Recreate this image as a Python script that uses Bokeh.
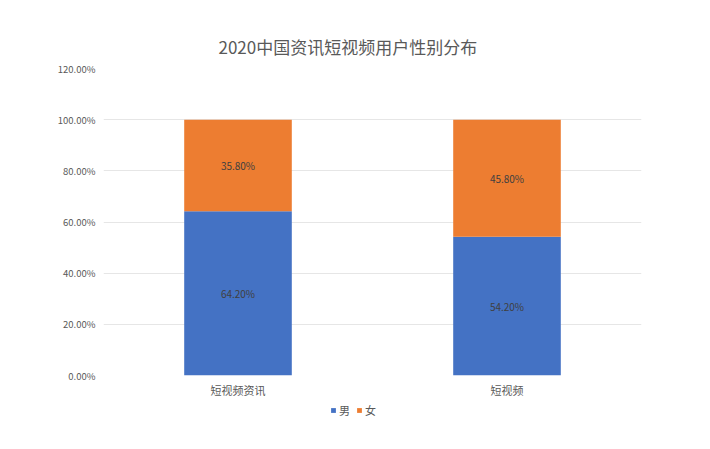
from bokeh.plotting import figure
from bokeh.layouts import column
from bokeh.models import ColumnDataSource, NumeralTickFormatter, Legend, LegendItem, LabelSet, FixedTicker, Range1d
from bokeh.core.properties import value
from bokeh.embed import file_html
from bokeh.resources import INLINE

categories = ["短视频资讯", "短视频"]
male = [0.642, 0.542]
female = [0.358, 0.458]
series_names = ["男", "女"]
colors = ["#4472C4", "#ED7D31"]
y_ticks = [0, 0.2, 0.4, 0.6, 0.8, 1.0, 1.2]
title_text = "2020中国资讯短视频用户性别分布"

FONT = "Noto Sans CJK SC"
TXT = "#595959"

src = ColumnDataSource(dict(
    cat=categories,
    male=male,
    female=female,
    male_mid=[m / 2 for m in male],
    female_mid=[m + f / 2 for m, f in zip(male, female)],
    male_lbl=[f"{m*100:.2f}%" for m in male],
    female_lbl=[f"{f*100:.2f}%" for f in female],
))

p = figure(x_range=categories, y_range=Range1d(0, 1.2), width=700, height=400,
           output_backend="svg", toolbar_location=None, title=title_text,
           min_border_left=103, min_border_right=59, min_border_top=68, min_border_bottom=25)

r = p.vbar_stack(["male", "female"], x="cat", width=0.4, source=src,
                 color=colors, line_color=None)

p.title.align = "left"
p.title.offset = 115
p.title.standoff = 19
p.title.text_font = FONT
p.title.text_font_size = "17px"
p.title.text_font_style = "normal"
p.title.text_color = TXT

p.outline_line_color = None
p.background_fill_color = "white"
p.border_fill_color = "white"

p.yaxis.ticker = FixedTicker(ticks=y_ticks)
p.yaxis.formatter = NumeralTickFormatter(format="0.00%")
p.yaxis.axis_line_color = None
p.yaxis.major_tick_line_color = None
p.yaxis.minor_tick_line_color = None
p.yaxis.major_tick_out = 0
p.yaxis.major_tick_in = 0
p.yaxis.minor_tick_out = 0
p.yaxis.major_label_text_font = FONT
p.yaxis.major_label_text_font_size = "9.5px"
p.yaxis.major_label_text_color = TXT
p.yaxis.major_label_standoff = 8

p.xaxis.axis_line_color = None
p.xaxis.major_tick_line_color = None
p.xaxis.major_tick_out = 0
p.xaxis.major_tick_in = 0
p.xaxis.major_label_text_font = FONT
p.xaxis.major_label_text_font_size = "11px"
p.xaxis.major_label_text_color = TXT
p.xaxis.major_label_standoff = 6

p.xgrid.grid_line_color = None
p.ygrid.grid_line_color = "#E6E6E6"
p.ygrid.ticker = FixedTicker(ticks=y_ticks)

for ycol, tcol in [("male_mid", "male_lbl"), ("female_mid", "female_lbl")]:
    lbl = LabelSet(x="cat", y=ycol, text=tcol, source=src,
                   text_align="center", text_baseline="middle",
                   text_font=value(FONT), text_font_size=value("10px"), text_color="#404040")
    p.add_layout(lbl)

# legend strip below the chart (its bars lie outside the visible range; only the legend shows)
lp = figure(width=700, height=30, output_backend="svg", toolbar_location=None,
            x_range=categories, y_range=Range1d(5, 6),
            x_axis_type=None, y_axis_type=None,
            min_border_left=0, min_border_right=0, min_border_top=0, min_border_bottom=0)
lp.outline_line_color = None
lp.xgrid.grid_line_color = None
lp.ygrid.grid_line_color = None
lr = lp.vbar_stack(["male", "female"], x="cat", width=0.4, source=src,
                   color=colors, line_color=None)
legend = Legend(items=[LegendItem(label=series_names[i], renderers=[lr[i]]) for i in range(2)],
                orientation="horizontal", location=(227, 12),
                label_text_font=FONT, label_text_font_size="11px", label_text_color=TXT,
                glyph_width=6, glyph_height=6, label_standoff=3, spacing=6,
                label_width=11, label_height=12,
                border_line_color=None, background_fill_alpha=0, padding=0, margin=0)
lp.add_layout(legend)

page = column(p, lp, spacing=0)
open("out.html", "w").write(file_html(page, INLINE))
